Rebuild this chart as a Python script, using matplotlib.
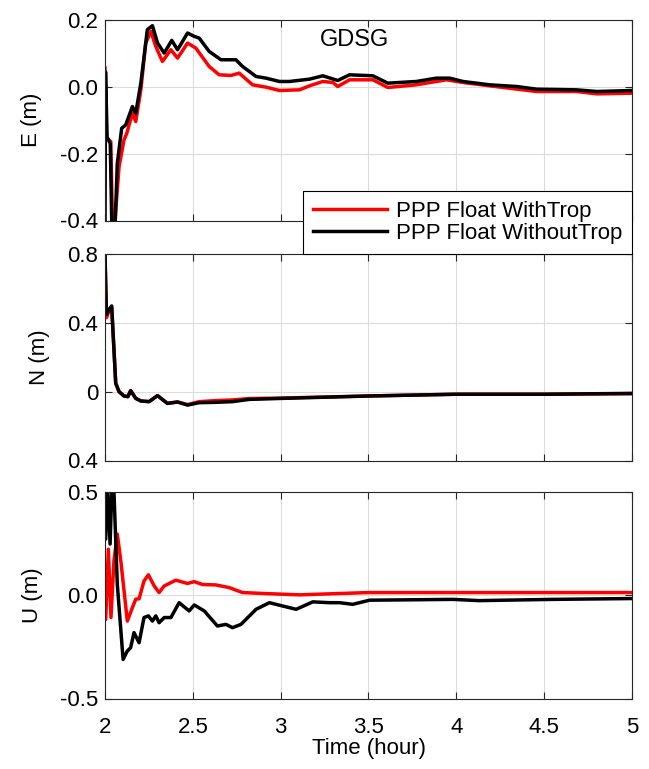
import matplotlib
matplotlib.use("Agg")
import matplotlib.pyplot as plt
import numpy as np

plt.rcParams['font.family'] = ['Liberation Sans', 'DejaVu Sans']
plt.rcParams['axes.unicode_minus'] = False

# ---- data ----
station = "GDSG"
series_names = ["PPP Float WithTrop", "PPP Float WithoutTrop"]
series_colors = ["#ff0000", "#000000"]

# E component
e_t_with = [2.0, 2.008, 2.033, 2.042, 2.055, 2.061, 2.08, 2.108, 2.124, 2.156, 2.175, 2.204, 2.232,
            2.261, 2.289, 2.327, 2.375, 2.413, 2.47, 2.517, 2.593, 2.65, 2.717, 2.764, 2.84, 2.917,
            2.993, 3.107, 3.164, 3.24, 3.297, 3.325, 3.392, 3.525, 3.61, 3.772, 3.943, 4.038, 4.19,
            4.457, 4.685, 4.8, 5.0]
e_with = [0.056, -0.153, -0.164, -0.4, -0.42, -0.37, -0.239, -0.159, -0.139, -0.079, -0.104, -0.009, 0.131,
          0.166, 0.121, 0.076, 0.111, 0.086, 0.131, 0.116, 0.061, 0.036, 0.034, 0.041, 0.006, -0.001,
          -0.011, -0.009, 0.003, 0.016, 0.013, 0.001, 0.021, 0.021, -0.002, 0.006, 0.021, 0.013, 0.003,
          -0.014, -0.014, -0.021, -0.019]
e_t_without = [2.0, 2.003, 2.012, 2.03, 2.04, 2.055, 2.07, 2.095, 2.118, 2.156, 2.175, 2.204, 2.241,
               2.27, 2.299, 2.337, 2.38, 2.413, 2.47, 2.508, 2.536, 2.593, 2.66, 2.745, 2.783, 2.86,
               2.917, 2.993, 3.05, 3.164, 3.24, 3.325, 3.392, 3.525, 3.61, 3.772, 3.886, 3.962, 4.038,
               4.19, 4.343, 4.457, 4.685, 4.8, 5.0]
e_without = [-0.45, 0.045, -0.15, -0.17, -0.45, -0.45, -0.229, -0.124, -0.114, -0.059, -0.079, 0.011, 0.171,
             0.183, 0.131, 0.101, 0.139, 0.111, 0.161, 0.151, 0.146, 0.106, 0.081, 0.081, 0.061, 0.031,
             0.026, 0.016, 0.016, 0.023, 0.033, 0.019, 0.036, 0.033, 0.011, 0.016, 0.026, 0.026, 0.016,
             0.006, 0.001, -0.007, -0.009, -0.014, -0.011]

# N component
n_t_with = [2.0, 2.008, 2.023, 2.038, 2.051, 2.061, 2.08, 2.108, 2.13, 2.146, 2.175, 2.204, 2.251,
            2.299, 2.355, 2.413, 2.47, 2.536, 2.63, 2.726, 2.82, 3.01, 3.506, 3.997, 4.49, 5.0]
n_with = [0.8, 0.43, 0.47, 0.49, 0.244, 0.049, 0.0, -0.025, -0.029, 0.006, -0.039, -0.054, -0.058,
          -0.023, -0.068, -0.06, -0.075, -0.058, -0.052, -0.048, -0.04, -0.037, -0.025, -0.015, -0.015, -0.012]
n_t_without = [2.0, 2.008, 2.023, 2.038, 2.051, 2.061, 2.08, 2.108, 2.13, 2.146, 2.175, 2.204, 2.251,
               2.299, 2.355, 2.413, 2.47, 2.536, 2.63, 2.726, 2.82, 3.01, 3.506, 3.997, 4.49, 5.0]
n_without = [0.8, 0.449, 0.478, 0.498, 0.244, 0.049, 0.0, -0.025, -0.029, 0.006, -0.039, -0.054, -0.058,
             -0.023, -0.068, -0.06, -0.078, -0.064, -0.062, -0.058, -0.045, -0.039, -0.025, -0.015, -0.015, -0.01]

# U component
u_t_with = [2.0, 2.004, 2.019, 2.034, 2.051, 2.07, 2.09, 2.127, 2.156, 2.175, 2.194, 2.222, 2.247,
            2.28, 2.308, 2.337, 2.403, 2.47, 2.508, 2.555, 2.631, 2.707, 2.783, 2.917, 3.107, 3.5, 5.0]
u_with = [-0.117, -0.117, 0.223, -0.108, 0.167, 0.296, 0.167, -0.125, -0.06, -0.019, -0.017, 0.069, 0.099,
          0.045, 0.013, 0.045, 0.073, 0.057, 0.066, 0.052, 0.05, 0.037, 0.013, 0.008, 0.002, 0.013, 0.013]
u_t_without = [2.0, 2.004, 2.013, 2.029, 2.04, 2.051, 2.07, 2.103, 2.127, 2.146, 2.165, 2.194, 2.222,
               2.247, 2.27, 2.289, 2.308, 2.337, 2.375, 2.422, 2.479, 2.508, 2.565, 2.64, 2.688, 2.726,
               2.774, 2.86, 2.936, 3.011, 3.088, 3.183, 3.278, 3.335, 3.41, 3.506, 3.98, 4.13, 4.55, 5.0]
u_without = [0.27, 0.272, 0.55, 0.248, 0.55, 0.5, 0.053, -0.311, -0.27, -0.254, -0.181, -0.23, -0.108,
             -0.1, -0.125, -0.1, -0.133, -0.108, -0.108, -0.036, -0.076, -0.047, -0.076, -0.149, -0.141, -0.157,
             -0.141, -0.068, -0.036, -0.052, -0.068, -0.032, -0.036, -0.036, -0.044, -0.024, -0.02, -0.026, -0.02, -0.016]

e_ticks = [-0.4, -0.2, 0.0, 0.2]
e_ticklabels = ["-0.4", "-0.2", "0.0", "0.2"]
n_ticks = [-0.4, 0.0, 0.4, 0.8]
n_ticklabels = ["0.4", "0", "0.4", "0.8"]
u_ticks = [-0.5, 0.0, 0.5]
u_ticklabels = ["-0.5", "0.0", "0.5"]
x_ticks = [2, 2.5, 3, 3.5, 4, 4.5, 5]
x_ticklabels = ["2", "2.5", "3", "3.5", "4", "4.5", "5"]

# ---- figure ----
W, H = 649, 769
fig = plt.figure(figsize=(W / 100, H / 100), dpi=100)

def box(l, t, r, b):
    return [l / W, 1 - b / H, (r - l) / W, (b - t) / H]

ax_e = fig.add_axes(box(105, 20, 632, 220.5))
ax_n = fig.add_axes(box(105, 254, 632, 460.5))
ax_u = fig.add_axes(box(105, 492, 632, 698.5))

spine_c = "#262626"
lw = 2.5
fs = 16

panels = [
    (ax_e, e_t_with, e_with, e_t_without, e_without, (-0.4, 0.2), e_ticks, e_ticklabels, "E (m)", -0.12),
    (ax_n, n_t_with, n_with, n_t_without, n_without, (-0.4, 0.8), n_ticks, n_ticklabels, "N (m)", -0.105),
    (ax_u, u_t_with, u_with, u_t_without, u_without, (-0.5, 0.5), u_ticks, u_ticklabels, "U (m)", -0.118),
]

for ax, tw, yw, to, yo, ylim, yt, ytl, lab, lx in panels:
    ax.plot(tw, yw, color=series_colors[0], lw=lw, label=series_names[0])
    ax.plot(to, yo, color=series_colors[1], lw=lw, label=series_names[1])
    ax.set_xlim(2, 5)
    ax.set_ylim(*ylim)
    ax.set_xticks(x_ticks)
    ax.set_yticks(yt)
    ax.set_yticklabels(ytl)
    ax.grid(True, color="#dcdcdc", lw=0.8)
    ax.set_axisbelow(True)
    ax.tick_params(direction="in", top=True, right=True, length=5, width=0.8,
                   color=spine_c, labelsize=fs, labelcolor="black")
    ax.tick_params(axis="y", pad=5)
    for s in ax.spines.values():
        s.set_color(spine_c)
        s.set_linewidth(0.8)
    ax.set_ylabel(lab, fontsize=fs)
    ax.yaxis.set_label_coords(lx, 0.5)

ax_e.set_xticklabels([])
ax_n.set_xticklabels([])
ax_u.set_xticklabels(x_ticklabels)
ax_u.tick_params(axis="x", pad=13)
ax_u.set_xlabel("Time (hour)", fontsize=fs, labelpad=0)

ax_e.text(0.473, 0.9, station, transform=ax_e.transAxes, fontsize=17,
          ha="center", va="center")

leg = ax_e.legend(loc="lower right", bbox_to_anchor=(1.0, -0.168), borderaxespad=0,
                  fontsize=fs, fancybox=False, framealpha=1, edgecolor="black",
                  handlelength=3.3, handletextpad=0.4, borderpad=0.45, labelspacing=0.05)
leg.get_frame().set_linewidth(0.8)
ax_e.set_zorder(5)

fig.savefig("out.png", dpi=100)
